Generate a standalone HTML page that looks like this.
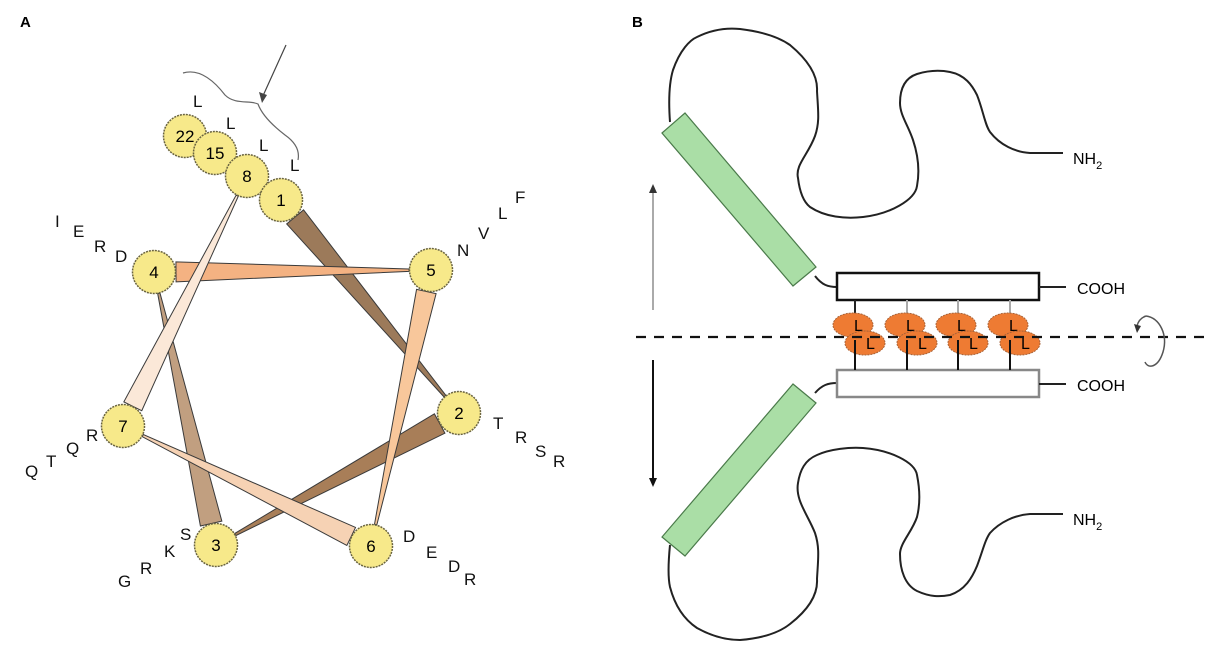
<!DOCTYPE html>
<html><head><meta charset="utf-8"><style>
html,body{margin:0;padding:0;background:#fff;}
svg{display:block;font-family:"Liberation Sans",sans-serif;}
</style></head><body>
<svg id="fig" width="1206" height="648" viewBox="0 0 1206 648">
<g id="panelA">
<text x="20" y="27" font-size="15" font-weight="bold">A</text>
<path d="M183,73 C200,68 215,82 225,95 C235,105 250,100 258,104 C262,115 272,125 285,135 C295,142 300,150 298,160" fill="none" stroke="#666" stroke-width="1.2"/>
<line x1="286" y1="45" x2="262" y2="98" stroke="#444" stroke-width="1.2"/>
<polygon points="262,103 259,92 267,95" fill="#444"/>
<g id="wedges"></g>
<g id="circles"></g>
<g id="letters" font-size="17" fill="#111"></g>
</g>
<g id="panelB">
<text x="632" y="27" font-size="15" font-weight="bold">B</text>
<path d="M670,122 C668,95 670,80 673,70 C680,50 690,40 697,37 C715,28 730,28 740,29 C765,32 780,38 790,45 C808,60 818,75 817,91 C818,110 820,122 815,136 C808,155 795,165 798,178 C800,195 805,203 810,207 C825,217 845,219 863,217 C890,214 915,200 917,186 C920,170 918,155 913,140 C908,125 900,115 900,103 C900,88 905,78 917,74 C930,70 940,70 950,72 C965,75 972,85 977,95 C983,110 985,125 990,132 C1000,145 1015,152 1030,153 L1063,153" fill="none" stroke="#222" stroke-width="2"/>
<path d="M670,545 C668,565 668,578 670,587 C676,610 688,622 697,628 C715,638 730,640 740,640 C765,638 780,632 790,624 C808,610 818,595 817,579 C818,560 820,548 815,533 C808,515 795,500 798,483 C800,470 805,460 817,455 C830,449 850,447 863,448 C890,450 915,462 917,475 C920,490 920,505 917,517 C912,532 900,543 900,554 C900,570 905,585 917,591 C930,597 940,597 950,595 C965,590 972,578 977,566 C983,550 985,540 990,533 C1000,522 1015,515 1030,514 L1063,514" fill="none" stroke="#222" stroke-width="2"/>
<polygon points="662,133 685,113 816,267 793,286" fill="#aadea6" stroke="#4a7a4a" stroke-width="1.2"/>
<polygon points="662,537 685,556 816,403 793,384" fill="#aadea6" stroke="#4a7a4a" stroke-width="1.2"/>
<path d="M815,276 C822,285 828,287 837,287" fill="none" stroke="#222" stroke-width="2"/>
<path d="M815,393 C822,385 828,383 837,383" fill="none" stroke="#222" stroke-width="2"/>
<rect x="837" y="273" width="202" height="27" fill="#fff" stroke="#111" stroke-width="2.5"/>
<rect x="837" y="370" width="202" height="27" fill="#fff" stroke="#888" stroke-width="2.5"/>
<line x1="1039" y1="287" x2="1066" y2="287" stroke="#222" stroke-width="2"/>
<line x1="1039" y1="384" x2="1066" y2="384" stroke="#222" stroke-width="2"/>
<text x="1077" y="294" font-size="16">COOH</text>
<text x="1077" y="391" font-size="16">COOH</text>
<text x="1073" y="164" font-size="16">NH<tspan font-size="11" dy="5">2</tspan></text>
<text x="1073" y="525" font-size="16">NH<tspan font-size="11" dy="5">2</tspan></text>
<line x1="653" y1="310" x2="653" y2="190" stroke="#aaa" stroke-width="2"/>
<polygon points="653,184 649,193 657,193" fill="#333"/>
<line x1="653" y1="360" x2="653" y2="480" stroke="#111" stroke-width="2"/>
<polygon points="653,487 649,478 657,478" fill="#111"/>
<g id="zipper"></g>
<line x1="636" y1="337" x2="1206" y2="337" stroke="#111" stroke-width="2.2" stroke-dasharray="10,8"/>
<path d="M1146,316 C1160,318 1168,335 1163,352 C1158,368 1148,369 1145,362" fill="none" stroke="#555" stroke-width="1.5"/>
<path d="M1146,316 C1140,318 1138,322 1137,326" fill="none" stroke="#555" stroke-width="1.5"/>
<polygon points="1134,324 1141,326 1137,333" fill="#333"/>
</g>
</svg>
<script>
const NS='http://www.w3.org/2000/svg';
const residueNums=['1','2','3','4','5','6','7','8','15','22'];
const residueX=[281,459,216,154,431,371,123,247,215,185];
const residueY=[200,413,545,272,270,546,426,176,153,136];
const wedgeColors=['#9c7a5a','#a87e58','#c19f80','#f4b282','#f8c79b','#f6d2b4','#fbe8d8'];
const wedgeWidths=[11,11,11,10,10,10,10];
const letters=['L','L','L','L','I','E','R','D','N','V','L','F','T','R','S','R','Q','T','Q','R','G','R','K','S','D','E','D','R'];
const letterX=[193,226,259,290,55,73,94,115,457,478,498,515,493,515,535,553,25,46,66,86,118,140,164,180,403,426,448,464];
const letterY=[107,129,151,171,227,237,252,262,256,239,219,203,429,443,457,467,477,467,454,441,587,574,557,540,542,558,572,585];
const wg=document.getElementById('wedges');
for(let i=0;i<7;i++){
  const ax=residueX[i],ay=residueY[i],bx=residueX[i+1],by=residueY[i+1];
  const dx=bx-ax,dy=by-ay,L=Math.hypot(dx,dy),ux=dx/L,uy=dy/L,px=-uy,py=ux;
  const sx=ax+ux*22,sy=ay+uy*22,ex=bx-ux*22,ey=by-uy*22,w=wedgeWidths[i];
  const p=document.createElementNS(NS,'polygon');
  p.setAttribute('points',[sx+px*w,sy+py*w,ex+px*1.2,ey+py*1.2,ex-px*1.2,ey-py*1.2,sx-px*w,sy-py*w].join(','));
  p.setAttribute('fill',wedgeColors[i]);p.setAttribute('stroke','#3a3a3a');p.setAttribute('stroke-width','1');
  
  
  wg.appendChild(p);
}
const cg=document.getElementById('circles');
for(let i=residueNums.length-1;i>=0;i--){
  const c=document.createElementNS(NS,'circle');
  c.setAttribute('cx',residueX[i]);c.setAttribute('cy',residueY[i]);c.setAttribute('r',21.5);
  c.setAttribute('fill','#f7e98a');c.setAttribute('stroke','#6a6440');c.setAttribute('stroke-width','1.5');c.setAttribute('stroke-dasharray','2,1');
  
  
  cg.appendChild(c);
  const t=document.createElementNS(NS,'text');
  t.setAttribute('x',residueX[i]);t.setAttribute('y',residueY[i]+6);t.setAttribute('text-anchor','middle');t.setAttribute('font-size','17');
  t.textContent=residueNums[i];
  
  
  cg.appendChild(t);
}
const lg=document.getElementById('letters');
for(let i=0;i<letters.length;i++){
  const t=document.createElementNS(NS,'text');
  t.setAttribute('x',letterX[i]);t.setAttribute('y',letterY[i]);
  t.textContent=letters[i];
  
  
  lg.appendChild(t);
}
const pairX=[853,905,956,1008];
const zg=document.getElementById('zipper');
for(let i=0;i<pairX.length;i++){
  const x=pairX[i];
  const s1=document.createElementNS(NS,'line');
  s1.setAttribute('x1',x+2);s1.setAttribute('y1',300);s1.setAttribute('x2',x+2);s1.setAttribute('y2',316);
  s1.setAttribute('stroke',i==0?'#222':'#aaa');s1.setAttribute('stroke-width','2');
  
  
  zg.appendChild(s1);
  [[x,325],[x+12,343]].forEach(function(c,j){
    const e=document.createElementNS(NS,'ellipse');
    e.setAttribute('cx',c[0]);e.setAttribute('cy',c[1]);e.setAttribute('rx',20);e.setAttribute('ry',12);
    e.setAttribute('fill','#ee7b33');e.setAttribute('stroke','#a8643a');e.setAttribute('stroke-width','1');e.setAttribute('stroke-dasharray','2,1');
    
    
    zg.appendChild(e);
    const t=document.createElementNS(NS,'text');
    t.setAttribute('x',c[0]+1);t.setAttribute('y',c[1]+6);t.setAttribute('font-size','16');
    t.textContent='L';
    
    
    zg.appendChild(t);
  });
  const s2=document.createElementNS(NS,'line');
  s2.setAttribute('x1',x+2);s2.setAttribute('y1',340);s2.setAttribute('x2',x+2);s2.setAttribute('y2',370);
  s2.setAttribute('stroke','#111');s2.setAttribute('stroke-width','2');
  
  
  zg.appendChild(s2);
}
</script>
</body></html>
